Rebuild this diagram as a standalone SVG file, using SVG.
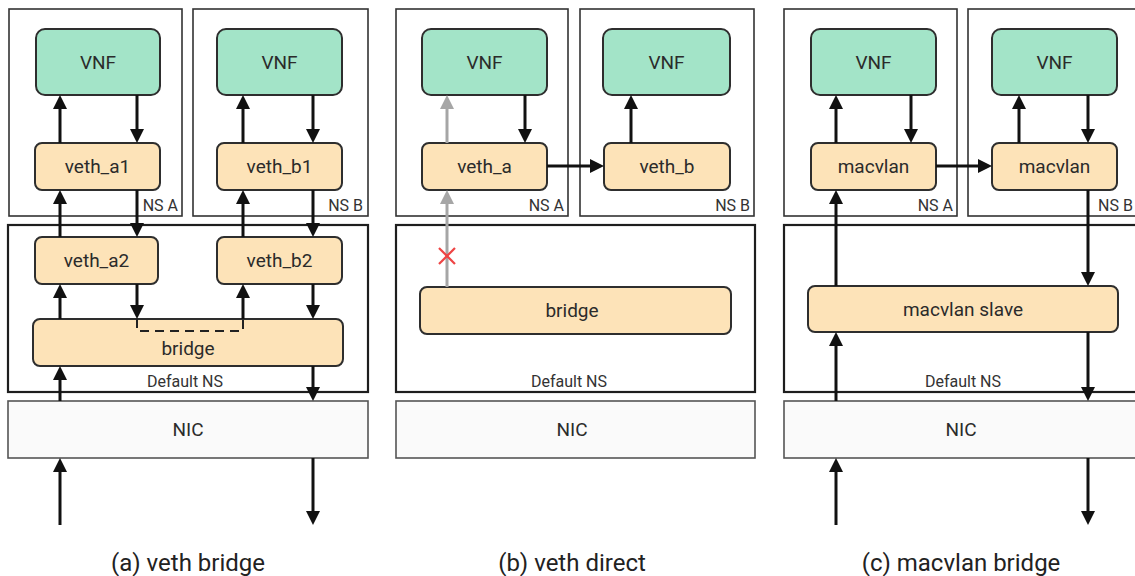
<svg xmlns="http://www.w3.org/2000/svg" width="1135" height="576" viewBox="0 0 1135 576">
<style>
text{font-family:Roboto,"Liberation Sans",sans-serif;fill:#2b2b2b;text-anchor:middle}
.ns{fill:#fff;stroke:#333;stroke-width:1.6}
.dns{fill:#fff;stroke:#1e1e1e;stroke-width:2.2}
.nic{fill:#fafafa;stroke:#555;stroke-width:1.6}
.vnf{fill:#a3e4c8;stroke:#2e2e2e;stroke-width:2}
.dev{fill:#fde3b8;stroke:#2e2e2e;stroke-width:2}
.t{font-size:19px}
.s{font-size:16px;fill:#333}
.sr{font-size:16px;fill:#333;text-anchor:end}
.cap{font-size:24px;fill:#222}
.a{stroke:#111;stroke-width:3;fill:none;marker-end:url(#ah)}
.g{stroke:#a6a6a6;stroke-width:3;fill:none;marker-end:url(#gh)}
.x{stroke:#ee4444;stroke-width:2.2}
</style>
<defs>
<marker id="ah" viewBox="0 0 14 14" markerWidth="14" markerHeight="14" refX="9" refY="7" orient="auto" markerUnits="userSpaceOnUse"><path d="M0,0 L14,7 L0,14 z" fill="#111"/></marker>
<marker id="gh" viewBox="0 0 14 14" markerWidth="14" markerHeight="14" refX="9" refY="7" orient="auto" markerUnits="userSpaceOnUse"><path d="M0,0 L14,7 L0,14 z" fill="#a6a6a6"/></marker>
</defs>
<rect width="1135" height="576" fill="#fff"/>

<!-- Panel (a) -->
<g id="a-nsA"><rect class="ns" x="9" y="9" width="173" height="207"/><text class="sr" x="178" y="211">NS A</text></g>
<g id="a-nsB"><rect class="ns" x="193" y="9" width="175" height="207"/><text class="sr" x="363" y="211">NS B</text></g>
<g id="a-dns"><rect class="dns" x="8" y="225" width="360" height="167"/><text class="s" x="185" y="387">Default NS</text></g>
<g id="a-nic"><rect class="nic" x="8" y="401" width="360" height="57"/><text class="t" x="188" y="436">NIC</text></g>
<g id="a-vnfA"><rect class="vnf" x="36" y="29" width="124" height="66" rx="9"/><text class="t" x="98" y="69">VNF</text></g>
<g id="a-vnfB"><rect class="vnf" x="217" y="29" width="125" height="66" rx="9"/><text class="t" x="279.5" y="69">VNF</text></g>
<g id="a-vetha1"><rect class="dev" x="35" y="143" width="125" height="47" rx="7"/><text class="t" x="97.5" y="173">veth_a1</text></g>
<g id="a-vethb1"><rect class="dev" x="217" y="143" width="125" height="47" rx="7"/><text class="t" x="279.5" y="173">veth_b1</text></g>
<g id="a-vetha2"><rect class="dev" x="35" y="237" width="123" height="47" rx="7"/><text class="t" x="96.5" y="267">veth_a2</text></g>
<g id="a-vethb2"><rect class="dev" x="217" y="237" width="125" height="47" rx="7"/><text class="t" x="279.5" y="267">veth_b2</text></g>
<g id="a-bridge"><rect class="dev" x="33" y="319" width="310" height="47" rx="7"/><text class="t" x="188" y="355">bridge</text></g>

<!-- Panel (b) -->
<g id="b-nsA"><rect class="ns" x="396" y="9" width="172" height="207"/><text class="sr" x="564" y="211">NS A</text></g>
<g id="b-nsB"><rect class="ns" x="580" y="9" width="174" height="207"/><text class="sr" x="750" y="211">NS B</text></g>
<g id="b-dns"><rect class="dns" x="396" y="225" width="359" height="167"/><text class="s" x="569" y="387">Default NS</text></g>
<g id="b-nic"><rect class="nic" x="396" y="401" width="359" height="57"/><text class="t" x="572" y="436">NIC</text></g>
<g id="b-vnfA"><rect class="vnf" x="422" y="29" width="125" height="66" rx="9"/><text class="t" x="484.5" y="69">VNF</text></g>
<g id="b-vnfB"><rect class="vnf" x="603" y="29" width="127" height="66" rx="9"/><text class="t" x="666.5" y="69">VNF</text></g>
<g id="b-vetha"><rect class="dev" x="422" y="143" width="125" height="47" rx="7"/><text class="t" x="484.5" y="173">veth_a</text></g>
<g id="b-vethb"><rect class="dev" x="604" y="143" width="126" height="47" rx="7"/><text class="t" x="667" y="173">veth_b</text></g>
<g id="b-bridge"><rect class="dev" x="420" y="287" width="311" height="47" rx="7"/><text class="t" x="572" y="317">bridge</text></g>

<!-- Panel (c) -->
<g id="c-nsA"><rect class="ns" x="784" y="9" width="173" height="207"/><text class="sr" x="953" y="211">NS A</text></g>
<g id="c-nsB"><rect class="ns" x="968" y="9" width="190" height="207"/><text class="s" x="1098" y="211" style="text-anchor:start">NS B</text></g>
<g id="c-dns"><rect class="dns" x="784" y="225" width="370" height="167"/><text class="s" x="963" y="387">Default NS</text></g>
<g id="c-nic"><rect class="nic" x="784" y="401" width="370" height="57"/><text class="t" x="961" y="436">NIC</text></g>
<g id="c-vnfA"><rect class="vnf" x="811" y="29" width="125" height="66" rx="9"/><text class="t" x="873.5" y="69">VNF</text></g>
<g id="c-vnfB"><rect class="vnf" x="992" y="29" width="125" height="66" rx="9"/><text class="t" x="1054.5" y="69">VNF</text></g>
<g id="c-macA"><rect class="dev" x="811" y="143" width="125" height="47" rx="7"/><text class="t" x="873.5" y="173">macvlan</text></g>
<g id="c-macB"><rect class="dev" x="992" y="143" width="125" height="47" rx="7"/><text class="t" x="1054.5" y="173">macvlan</text></g>
<g id="c-slave"><rect class="dev" x="808" y="286" width="310" height="46" rx="7"/><text class="t" x="963" y="316">macvlan slave</text></g>

<!-- Connectors -->
<g id="connectors">
<line class="a" x1="60" y1="143" x2="60" y2="100"/>
<line class="a" x1="137" y1="95" x2="137" y2="138"/>
<line class="a" x1="243" y1="143" x2="243" y2="100"/>
<line class="a" x1="313" y1="95" x2="313" y2="138"/>
<line class="a" x1="60" y1="237" x2="60" y2="195"/>
<line class="a" x1="137" y1="190" x2="137" y2="232"/>
<line class="a" x1="243" y1="237" x2="243" y2="195"/>
<line class="a" x1="313" y1="190" x2="313" y2="232"/>
<line class="a" x1="60" y1="319" x2="60" y2="289"/>
<line class="a" x1="137" y1="284" x2="137" y2="314"/>
<line class="a" x1="243" y1="319" x2="243" y2="289"/>
<line class="a" x1="313" y1="284" x2="313" y2="314"/>
<line class="a" x1="60" y1="401" x2="60" y2="371"/>
<line class="a" x1="313" y1="366" x2="313" y2="396"/>
<line class="a" x1="60" y1="525" x2="60" y2="463"/>
<line class="a" x1="313" y1="458" x2="313" y2="520"/>
<path d="M137,319 V331 H243 V319" fill="none" stroke="#222" stroke-width="2" stroke-dasharray="9 6"/>

<line class="g" x1="447" y1="143" x2="447" y2="100"/>
<line class="a" x1="525" y1="95" x2="525" y2="138"/>
<line class="a" x1="547" y1="166" x2="599" y2="166"/>
<line class="a" x1="631" y1="143" x2="631" y2="100"/>
<line class="g" x1="447" y1="287" x2="447" y2="195"/>
<line class="x" x1="439" y1="248" x2="455" y2="264"/>
<line class="x" x1="455" y1="248" x2="439" y2="264"/>

<line class="a" x1="836" y1="143" x2="836" y2="100"/>
<line class="a" x1="911" y1="95" x2="911" y2="138"/>
<line class="a" x1="1019" y1="143" x2="1019" y2="100"/>
<line class="a" x1="1088" y1="95" x2="1088" y2="138"/>
<line class="a" x1="936" y1="166" x2="987" y2="166"/>
<line class="a" x1="836" y1="286" x2="836" y2="195"/>
<line class="a" x1="1088" y1="190" x2="1088" y2="281"/>
<line class="a" x1="836" y1="401" x2="836" y2="337"/>
<line class="a" x1="1088" y1="332" x2="1088" y2="396"/>
<line class="a" x1="836" y1="525" x2="836" y2="463"/>
<line class="a" x1="1088" y1="458" x2="1088" y2="520"/>
</g>

<g id="captions">
<text class="cap" x="188" y="571">(a) veth bridge</text>
<text class="cap" x="572" y="571">(b) veth direct</text>
<text class="cap" x="961" y="571">(c) macvlan bridge</text>
</g>
</svg>
